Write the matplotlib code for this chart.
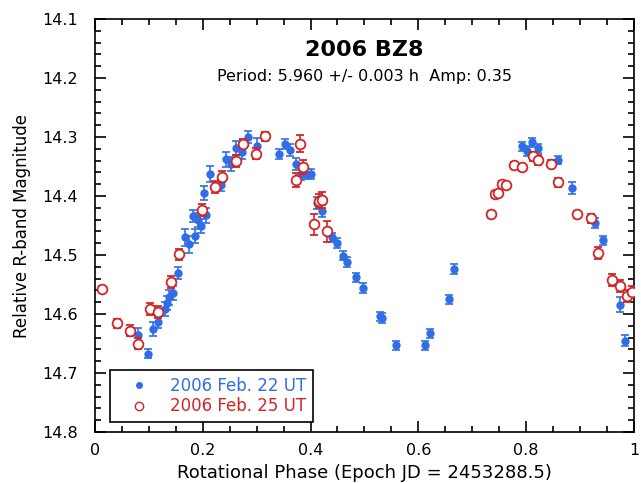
#!/usr/bin/env python3

import matplotlib
matplotlib.use('Agg')
import matplotlib.pyplot as plt
from matplotlib.ticker import MultipleLocator
from matplotlib.lines import Line2D

# 2006 Feb. 22 UT (blue, filled)
phase_22 = [0.080, 0.099, 0.108, 0.117, 0.130, 0.134, 0.138, 0.145, 0.154, 0.167,
            0.175, 0.182, 0.186, 0.191, 0.197, 0.203, 0.206, 0.214, 0.234, 0.243,
            0.253, 0.262, 0.273, 0.284, 0.301, 0.342, 0.353, 0.362, 0.373, 0.383,
            0.392, 0.401, 0.412, 0.422, 0.440, 0.449, 0.460, 0.468, 0.485, 0.498,
            0.528, 0.533, 0.558, 0.612, 0.621, 0.656, 0.667, 0.792, 0.801, 0.810,
            0.822, 0.859, 0.885, 0.927, 0.942, 0.974, 0.983]
mag_22 = [14.635, 14.667, 14.625, 14.613, 14.591, 14.582, 14.572, 14.565, 14.530, 14.470,
          14.482, 14.434, 14.468, 14.441, 14.451, 14.395, 14.433, 14.363, 14.382, 14.338,
          14.346, 14.319, 14.326, 14.300, 14.316, 14.329, 14.312, 14.322, 14.346, 14.363,
          14.363, 14.363, 14.412, 14.426, 14.470, 14.480, 14.501, 14.512, 14.538, 14.556,
          14.604, 14.607, 14.653, 14.653, 14.633, 14.575, 14.524, 14.316, 14.324, 14.309,
          14.319, 14.339, 14.387, 14.446, 14.475, 14.584, 14.645]
err_22 = [0.012, 0.008, 0.012, 0.010, 0.012, 0.012, 0.012, 0.012, 0.010, 0.014,
          0.014, 0.010, 0.012, 0.012, 0.012, 0.012, 0.012, 0.014, 0.010, 0.012,
          0.012, 0.012, 0.012, 0.010, 0.014, 0.008, 0.008, 0.010, 0.010, 0.010,
          0.008, 0.008, 0.010, 0.010, 0.008, 0.008, 0.008, 0.008, 0.008, 0.008,
          0.008, 0.008, 0.008, 0.008, 0.008, 0.008, 0.008, 0.008, 0.008, 0.008,
          0.008, 0.006, 0.010, 0.008, 0.008, 0.012, 0.010]

# 2006 Feb. 25 UT (red, open)
phase_25 = [0.013, 0.041, 0.065, 0.080, 0.102, 0.117, 0.141, 0.156, 0.199, 0.223,
            0.236, 0.262, 0.275, 0.299, 0.316, 0.373, 0.381, 0.387, 0.407, 0.415,
            0.422, 0.431, 0.734, 0.742, 0.747, 0.755, 0.762, 0.777, 0.792, 0.812,
            0.822, 0.846, 0.859, 0.894, 0.920, 0.933, 0.959, 0.974, 0.987, 0.996]
mag_25 = [14.558, 14.616, 14.628, 14.650, 14.592, 14.597, 14.546, 14.499, 14.424, 14.385,
          14.367, 14.340, 14.311, 14.328, 14.299, 14.373, 14.311, 14.351, 14.448, 14.409,
          14.407, 14.460, 14.431, 14.397, 14.395, 14.380, 14.382, 14.348, 14.351, 14.333,
          14.339, 14.345, 14.377, 14.431, 14.438, 14.497, 14.543, 14.553, 14.569, 14.562]
err_25 = [0.005, 0.008, 0.010, 0.010, 0.010, 0.010, 0.010, 0.010, 0.010, 0.010,
          0.010, 0.010, 0.008, 0.010, 0.008, 0.012, 0.014, 0.012, 0.018, 0.012,
          0.014, 0.018, 0.006, 0.006, 0.006, 0.006, 0.006, 0.006, 0.006, 0.008,
          0.008, 0.006, 0.008, 0.006, 0.008, 0.010, 0.010, 0.010, 0.010, 0.010]

blue = '#2f6ee6'
red = '#d42424'

fig = plt.figure(figsize=(6.41, 4.83), dpi=100)
ax = fig.add_axes([0.148, 0.1056, 0.841, 0.855])

ax.errorbar(phase_22, mag_22, yerr=err_22, fmt='o', color=blue, ms=5,
            elinewidth=1.2, capsize=3, capthick=1.2, zorder=3)
ax.errorbar(phase_25, mag_25, yerr=err_25, fmt='o', color=red, mfc='white', mec=red,
            mew=1.3, ms=7, elinewidth=1.2, capsize=3, capthick=1.2, zorder=4)

ax.set_xlim(0, 1)
ax.set_ylim(14.8, 14.1)
ax.xaxis.set_major_locator(MultipleLocator(0.2))
ax.xaxis.set_minor_locator(MultipleLocator(0.05))
ax.yaxis.set_major_locator(MultipleLocator(0.1))
ax.yaxis.set_minor_locator(MultipleLocator(0.02))
ax.xaxis.set_major_formatter(plt.FuncFormatter(lambda v, p: f"{v:g}"))
ax.tick_params(which='both', direction='in', top=True, right=True, labelsize=11.5, width=1.2)
ax.tick_params(which='major', length=8)
ax.tick_params(which='minor', length=4)
ax.tick_params(axis='x', which='major', pad=8)
ax.tick_params(axis='y', which='major', pad=12)
for s in ax.spines.values():
    s.set_linewidth(1.2)

ax.set_xlabel('Rotational Phase (Epoch JD = 2453288.5)', fontsize=13)
ax.set_ylabel('Relative R-band Magnitude', fontsize=12, labelpad=8)

ax.text(0.5, 0.925, '2006 BZ8', transform=ax.transAxes, ha='center', va='center',
        fontsize=16, fontweight='bold')
ax.text(0.5, 0.86, 'Period: 5.960 +/- 0.003 h  Amp: 0.35', transform=ax.transAxes,
        ha='center', va='center', fontsize=11.5)

handles = [Line2D([], [], ls='none', marker='o', color=blue, ms=4),
           Line2D([], [], ls='none', marker='o', color=red, mfc='white', mew=1.0, ms=6)]
leg = ax.legend(handles, ['2006 Feb. 22 UT', '2006 Feb. 25 UT'],
                loc='lower left', bbox_to_anchor=(0.028, 0.024), fontsize=12,
                frameon=True, fancybox=False, edgecolor='black', handletextpad=0.5,
                borderpad=0.4, borderaxespad=0, labelspacing=0.15, handlelength=2.7,
                framealpha=1)
leg.get_frame().set_linewidth(1.2)
for t, c in zip(leg.get_texts(), [blue, red]):
    t.set_color(c)

fig.savefig('out.png', dpi=100)
